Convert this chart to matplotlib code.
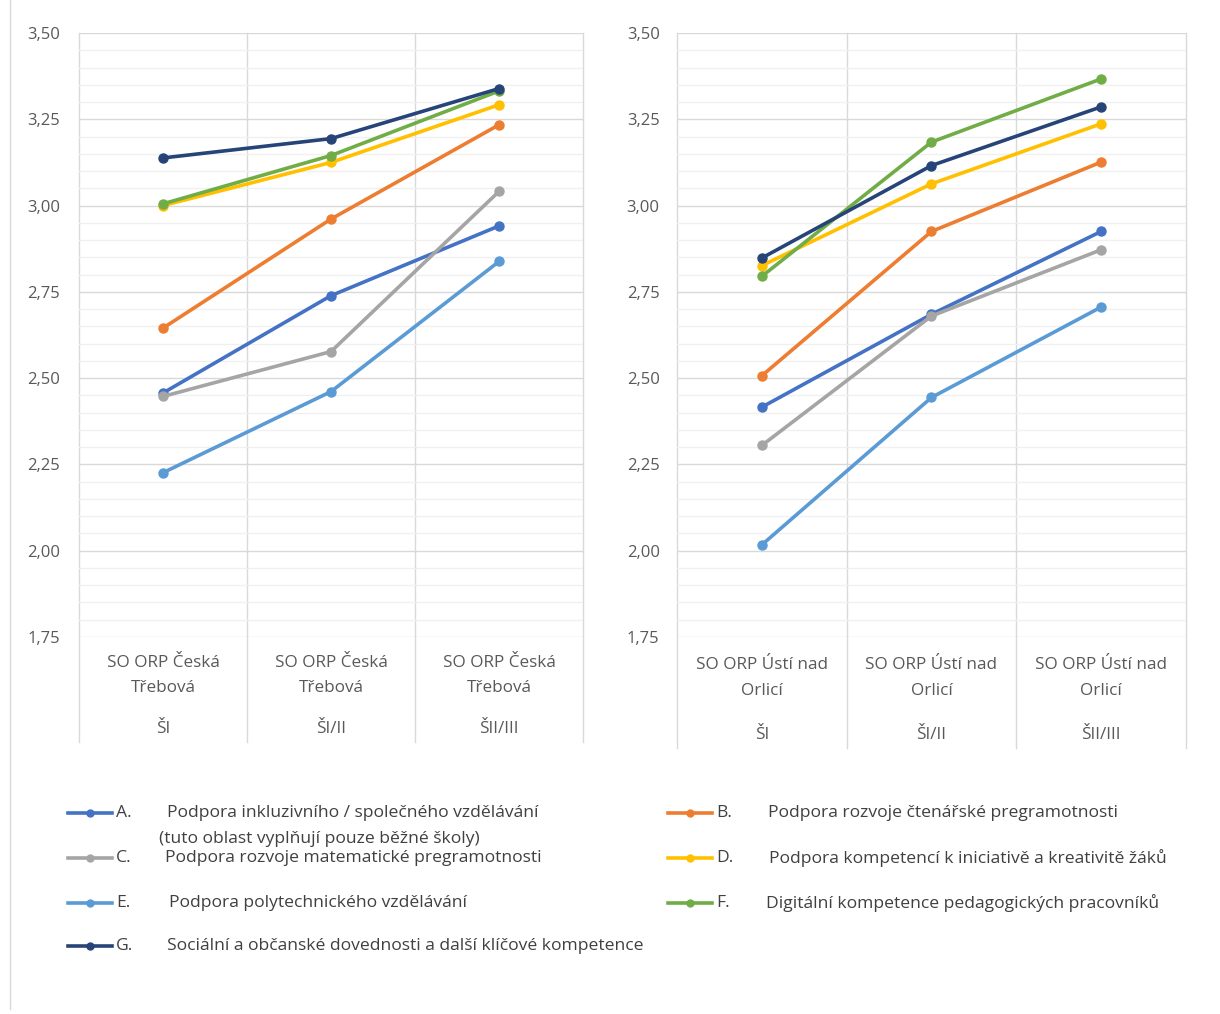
import matplotlib
matplotlib.use("Agg")
import matplotlib.pyplot as plt
from matplotlib.lines import Line2D
from matplotlib.ticker import MultipleLocator, FuncFormatter

plt.rcParams['font.family'] = ['Open Sans', 'DejaVu Sans']

levels = ["ŠI", "ŠI/II", "ŠII/III"]
region_left = "SO ORP Česká\nTřebová"
region_right = "SO ORP Ústí nad\nOrlicí"

codes = ["A.", "B.", "C.", "D.", "E.", "F.", "G."]
names = [
    "Podpora inkluzivního / společného vzdělávání",
    "Podpora rozvoje čtenářské pregramotnosti",
    "Podpora rozvoje matematické pregramotnosti",
    "Podpora kompetencí k iniciativě a kreativitě žáků",
    "Podpora polytechnického vzdělávání",
    "Digitální kompetence pedagogických pracovníků",
    "Sociální a občanské dovednosti a další klíčové kompetence",
]
note_a = "(tuto oblast vyplňují pouze běžné školy)"
colors = ["#4472C4", "#ED7D31", "#A5A5A5", "#FFC000", "#5B9BD5", "#70AD47", "#264478"]

# Česká Třebová
ct_A = [2.457, 2.739, 2.941]
ct_B = [2.645, 2.961, 3.234]
ct_C = [2.447, 2.577, 3.041]
ct_D = [3.000, 3.125, 3.292]
ct_E = [2.226, 2.461, 2.838]
ct_F = [3.005, 3.145, 3.332]
ct_G = [3.138, 3.194, 3.339]

# Ústí nad Orlicí
uo_A = [2.416, 2.685, 2.925]
uo_B = [2.507, 2.925, 3.126]
uo_C = [2.305, 2.680, 2.872]
uo_D = [2.826, 3.063, 3.237]
uo_E = [2.017, 2.444, 2.706]
uo_F = [2.795, 3.184, 3.367]
uo_G = [2.848, 3.116, 3.286]

left_series = [ct_A, ct_B, ct_C, ct_D, ct_E, ct_F, ct_G]
right_series = [uo_A, uo_B, uo_C, uo_D, uo_E, uo_F, uo_G]

W, H = 1220, 1014
fig = plt.figure(figsize=(W / 100, H / 100), dpi=100)
fig.patch.set_facecolor("white")

tick_color = "#595959"
AX_H = 637 - 33


def setup(ax, series, region, y1, y2, y3, yend, pad):
    x = list(range(len(levels)))
    ax.set_xlim(-0.5, len(levels) - 0.5)
    ax.set_ylim(1.75, 3.50)
    ax.yaxis.set_major_locator(MultipleLocator(0.25))
    ax.yaxis.set_minor_locator(MultipleLocator(0.05))
    ax.yaxis.set_major_formatter(FuncFormatter(lambda v, p: f"{v:.2f}".replace(".", ",")))
    ax.grid(axis="y", which="major", color="#d9d9d9", lw=1.0, zorder=0)
    ax.grid(axis="y", which="minor", color="#f0f0f0", lw=1.0, zorder=0)
    for s in ax.spines.values():
        s.set_visible(False)
    ax.tick_params(axis="y", which="both", length=0, labelsize=12, labelcolor=tick_color, pad=pad)
    ax.set_xticks([])
    trans = ax.get_xaxis_transform()
    ye = -(yend - 637) / AX_H
    for b in [-0.5 + i for i in range(len(levels) + 1)]:
        ax.plot([b, b], [ye, 1.0], transform=trans, color="#d9d9d9", lw=1.0,
                clip_on=False, zorder=0)
    line1, line2 = region.split("\n")
    for i, lab in enumerate(levels):
        ax.text(i, -(y1 - 637) / AX_H, line1, transform=trans, ha="center", va="center",
                fontsize=12.3, color=tick_color)
        ax.text(i, -(y2 - 637) / AX_H, line2, transform=trans, ha="center", va="center",
                fontsize=12.3, color=tick_color)
        ax.text(i, -(y3 - 637) / AX_H, lab, transform=trans, ha="center", va="center",
                fontsize=12.3, color=tick_color)
    for k, (vals, c) in enumerate(zip(series, colors)):
        ax.plot(x, vals, color=c, lw=2.6, marker="o", markersize=6.5, zorder=3 + k,
                solid_capstyle="round")


axL = fig.add_axes([79 / W, 1 - 637 / H, (583 - 79) / W, AX_H / H])
axR = fig.add_axes([677 / W, 1 - 637 / H, (1186 - 677) / W, AX_H / H])
setup(axL, left_series, region_left, 663, 688, 729, 742, 13.5)
setup(axR, right_series, region_right, 665, 691, 735, 748, 12.5)

# Legend (manual layout)
legend_color = "#404040"
LFS = 12.6


def leg_entry(x0, y, idx, name_dx):
    yf = 1 - y / H
    fig.add_artist(Line2D([x0 / W, (x0 + 44) / W], [yf, yf], color=colors[idx], lw=2.6))
    fig.add_artist(Line2D([(x0 + 22) / W], [yf], color=colors[idx], marker="o",
                          markersize=5))
    fig.text((x0 + 48) / W, yf, codes[idx], ha="left", va="center", fontsize=LFS,
             color=legend_color)
    fig.text((x0 + name_dx) / W, yf, names[idx], ha="left", va="center", fontsize=LFS,
             color=legend_color)


leg_entry(68, 813, 0, 99)
fig.text(159 / W, 1 - 839 / H, note_a, ha="left", va="center", fontsize=LFS, color=legend_color)
leg_entry(68, 858, 2, 97)
leg_entry(68, 903, 4, 101)
leg_entry(68, 946, 6, 99)
leg_entry(668, 813, 1, 100)
leg_entry(668, 858, 3, 101)
leg_entry(668, 903, 5, 98)

# left border line
fig.add_artist(Line2D([10 / W, 10 / W], [0.005, 1.0], color="#d9d9d9", lw=1.0))

fig.savefig("out.png", dpi=100, facecolor="white")
